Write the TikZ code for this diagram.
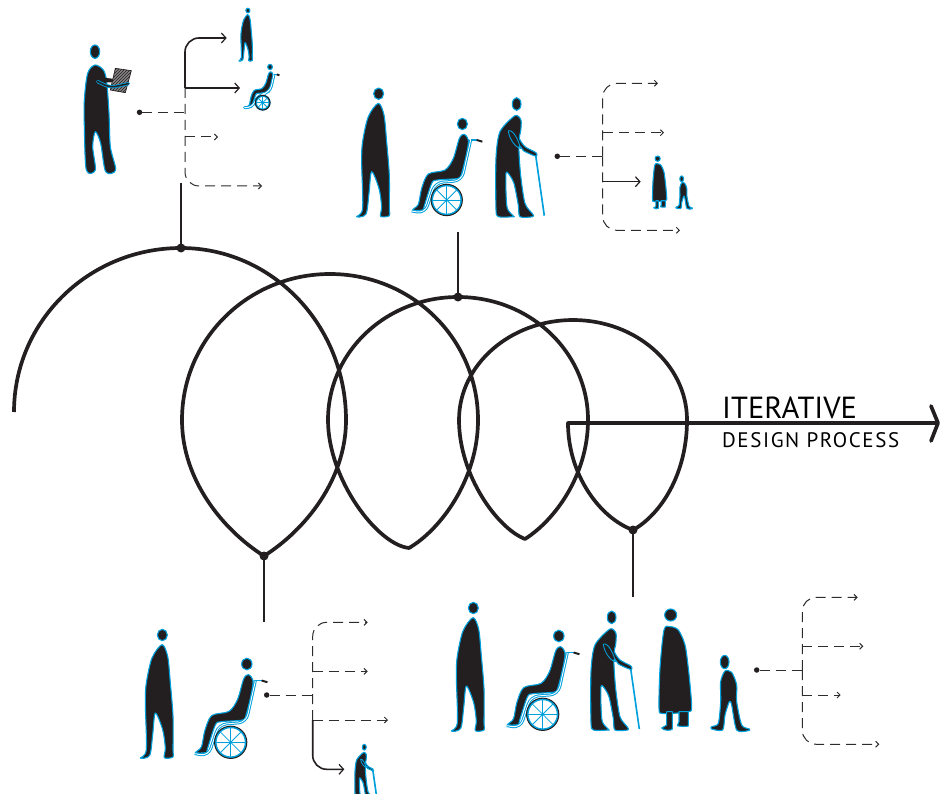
\documentclass[tikz,border=0pt]{standalone}
\usepackage{fontspec}
\setmainfont{PT Sans}
\newfontfamily\spaced[LetterSpace=7.5]{PT Sans}
\usetikzlibrary{arrows.meta,patterns}
\definecolor{ink}{HTML}{231F20}
\definecolor{figblue}{HTML}{00A0DC}
\definecolor{branchgray}{HTML}{2E2C2D}
\def\figlw{1pt}
\tikzset{
  figlw/.code={\def\figlw{#1}\tikzset{line width=#1}},
  every pic/.style={figlw=1.1pt},
  figure/.style={fill=ink,draw=figblue,line join=round},
  dot/.style={circle,fill=ink,inner sep=0pt,minimum size=#1},
  stem/.style={ink,line width=1.7pt},
  maincurve/.style={ink,line width=3.7pt,line join=round},
  dashbranch/.style={branchgray,line width=1pt,dash pattern=on 10pt off 6pt,rounded corners=14pt,-{Straight Barb[length=3pt,width=6pt]}},
  solidbranch/.style={ink,line width=1.6pt,rounded corners=14pt,-{Straight Barb[length=4.5pt,width=10pt,line width=1.2pt]}},
  standing/.pic={
    \fill[figure] (16,-369) ellipse (15 and 17);
    \fill[figure] plot[smooth cycle,tension=.5] coordinates {(15,-340)(32,-305)(40,-225)(48,-125)(48,-25)(48,-3)(22,-1)(25,-30)(17,-85)(-5,-135)(-13,-70)(-22,-8)(-50,0)(-32,-25)(-35,-165)(-32,-225)(-15,-300)};
  },
  wheelchair/.pic={
    \fill[figure] plot[smooth cycle,tension=.5] coordinates {(52,-197)(65,-180)(60,-140)(45,-80)(35,-65)(-28,-60)(-45,-50)(-68,20)(-72,30)(-102,30)(-85,13)(-75,-35)(-55,-78)(-5,-90)(20,-125)(38,-185)};
    \fill[figure] (47,-228) ellipse (15 and 17);
    \draw[figblue,line width=2.6*\figlw,rounded corners=8,line join=round] (72,-180)--(45,-58)--(-35,-52)--(-65,40)--(-105,33);
    \draw[white,line width=.8*\figlw,rounded corners=8,line join=round] (72,-180)--(45,-58)--(-35,-52)--(-65,40)--(-105,33);
    \draw[figblue,line width=1.8*\figlw] (72,-180)--(90,-180);
    \draw[ink,line width=1.8*\figlw] (90,-180)--(107,-175);
    \foreach \a in {0,45,...,315}{\draw[figblue,line width=.7*\figlw] (0,0)--(\a:45);}
    \draw[figblue,line width=1.8*\figlw] (0,0) circle (44);
    \draw[ink,line width=.9*\figlw] (0,0) circle (47);
  },
  caneperson/.pic={
    \draw[figblue,line width=1.5*\figlw] (67,-185)--(93,-3);
    \fill[figure] (10,-338) ellipse (13 and 19);
    \fill[figure] plot[smooth cycle,tension=.45] coordinates {(5,-303)(23,-290)(22,-255)(18,-235)(35,-210)(68,-192)(70,-182)(60,-184)(32,-197)(17,-210)(22,-125)(35,-40)(58,-8)(58,0)(20,0)(15,-35)(2,-100)(-15,-130)(-22,-130)(-22,-75)(-18,-25)(0,-2)(0,0)(-45,0)(-52,-25)(-52,-175)(-40,-255)};
    \draw[figblue,line width=.8*\figlw] (-15,-258) .. controls (-12,-230) and (10,-205) .. (22,-205) .. controls (15,-230) and (0,-262) .. (-15,-258);
  },
  cloakperson/.pic={
    \fill[figure] (-13,-345) circle (18);
    \fill[figure] plot[smooth cycle,tension=.5] coordinates {(-15,-310)(10,-300)(30,-255)(40,-185)(47,-115)(50,-65)(42,-55)(-5,-50)(-40,-50)(-48,-65)(-45,-185)(-33,-300)};
    \fill[figure] (-25,-55)--(-8,-55)--(-8,-3) .. controls (-10,2) and (-35,3) .. (-40,-6) -- (-25,-15)--cycle;
    \fill[figure] (12,-55)--(40,-55)--(40,-12) .. controls (35,-10) and (15,-10) .. (7,-13) -- (12,-25)--cycle;
  },
  child/.pic={
    \fill[figure] (-16,-204) ellipse (13 and 20);
    \fill[figure] plot[smooth cycle,tension=.45] coordinates {(-15,-177)(5,-173)(20,-135)(20,-85)(35,-15)(58,-3)(55,2)(20,0)(5,-75)(-2,-85)(-15,-45)(-22,0)(-55,-3)(-55,-10)(-35,-20)(-28,-85)(-28,-145)};
  },
  reader/.pic={
    \fill[figure] (0,-40) ellipse (14 and 20);
    \fill[figure] plot[smooth cycle,tension=.5] coordinates {(0,0)(25,15)(35,50)(42,145)(46,245)(62,315)(32,320)(17,235)(1,200)(-7,245)(1,315)(-26,315)(-32,185)(-32,105)(-22,25)};
    \fill[ink] (26,38)--(60,42)--(58,52)--(32,52)--cycle;
    \filldraw[fill=white,draw=ink,line width=.6*\figlw] (61,10)--(109,17)--(91,83)--(46,75)--cycle;
    \fill[pattern=north east lines,pattern color=ink] (61,10)--(109,17)--(91,83)--(46,75)--cycle;
    \fill[ink,opacity=.55] (61,10)--(109,17)--(91,83)--(46,75)--cycle;
    \draw[figblue,line width=3*\figlw,line cap=round,line join=round,rounded corners=6] (8,50)--(46,68)--(100,56);
    \draw[ink,line width=1.4*\figlw,line cap=round,line join=round,rounded corners=6] (8,50)--(46,68)--(100,56);
  }
}
\begin{document}
\begin{tikzpicture}[x=1pt,y=-1pt]
\useasboundingbox (0,0) rectangle (944,794);
% spiral
\coordinate (startc) at (14,412);
\coordinate (cusp1) at (264,556);
\coordinate (cusp3) at (633,530);
\coordinate (arrowend) at (938,423);
\coordinate (topc1) at (181,248);
\coordinate (topc2) at (458,297);
\draw[maincurve] (startc) .. controls (14,321) and (89,248) .. (topc1)
  .. controls (272,248) and (346,325) .. (346,420)
  .. controls (346,480) and (305,530) .. (cusp1)
  .. controls (223,530) and (182,480) .. (182,420)
  .. controls (182,339) and (248,274) .. (330,274)
  .. controls (412,274) and (478,339) .. (478,420)
  .. controls (478,480) and (440,530) .. (409,548)
  .. controls (378,545) and (328,480) .. (328,420)
  .. controls (328,352) and (386,297) .. (topc2)
  .. controls (530,297) and (588,352) .. (588,420)
  .. controls (588,475) and (555,520) .. (525,539)
  .. controls (497,528) and (459,475) .. (459,420)
  .. controls (459,365) and (510,320) .. (573,320)
  .. controls (636,320) and (687,365) .. (687,420)
  .. controls (687,475) and (660,515) .. (cusp3)
  .. controls (600,518) and (568,475) .. (568,423)
  -- (arrowend);
\coordinate (tipa) at (931,406);
\coordinate (tipb) at (931,441);
\draw[maincurve,line cap=round] (tipa) -- (arrowend) -- (tipb);
\node[anchor=base west,inner sep=0pt,font=\fontsize{30.5}{31}\selectfont] (t1) at (722,418) {ITERATIVE};
\node[anchor=base west,inner sep=0pt,font=\fontsize{21}{21}\spaced] (t2) at (722,447.5) {DESIGN PROCESS};
% stems
\foreach \n/\x/\y in {na/181/248,nb/264/556,nc/458/297,nd/633/530}{\node[dot=9pt] (\n) at (\x,\y) {};}
\coordinate (sa) at (181,183);\coordinate (sb) at (264,622);\coordinate (sc) at (458,232);\coordinate (sd) at (633,597);
\draw[stem] (sa)--(na.center);\draw[stem] (sb)--(nb.center);\draw[stem] (sc)--(nc.center);\draw[stem] (sd)--(nd.center);
% tree A
\node[dot=5.5pt] (da) at (139.5,112.3) {};
\coordinate (ta) at (185,112.3);\coordinate (ta1) at (185,88);\coordinate (ea1) at (226.7,38);\coordinate (ea2) at (240,88);
\coordinate (ta3) at (185,137);\coordinate (ea3) at (218,137);\coordinate (ea4) at (262,186);
\draw[dashbranch,-] (da)--(ta);
\draw[solidbranch] (ta1)|-(ea1);
\draw[solidbranch] (ta1)--(ea2);
\draw[dashbranch] (ta3)--(ea3);
\draw[dashbranch] (ta1)|-(ea4);
% tree B
\node[dot=5.5pt] (db) at (557.3,156.3) {};
\coordinate (tb) at (602.7,156.3);\coordinate (tb2) at (602.7,132.7);\coordinate (tb3) at (602.7,181.7);
\coordinate (eb1) at (658,83.3);\coordinate (eb2) at (664,132.7);\coordinate (eb3) at (640.7,181.7);\coordinate (eb4) at (680,230.3);
\draw[dashbranch,-] (db)--(tb);
\draw[dashbranch] (tb)|-(eb1);
\draw[dashbranch] (tb2)--(eb2);
\draw[solidbranch] (tb3)--(eb3);
\draw[dashbranch] (tb)|-(eb4);
% tree C
\node[dot=5.5pt] (dc) at (266.7,695) {};
\coordinate (tc) at (312.7,695);\coordinate (tc2) at (312.7,671.3);\coordinate (tc3) at (312.7,720);
\coordinate (ec1) at (367.7,622.3);\coordinate (ec2) at (367.7,671.3);\coordinate (ec3) at (388,720);\coordinate (ec4) at (344.3,769.3);
\draw[dashbranch,-] (dc)--(tc);
\draw[dashbranch] (tc3)|-(ec1);
\draw[dashbranch] (tc2)--(ec2);
\draw[dashbranch] (tc3)--(ec3);
\draw[solidbranch] (tc3)|-(ec4);
% tree D
\node[dot=5.5pt] (dd) at (756.7,670) {};
\coordinate (td) at (802.3,670);\coordinate (td2) at (802.3,646.3);\coordinate (td3) at (802.3,695);
\coordinate (ed1) at (857.7,597.3);\coordinate (ed2) at (863.3,646.3);\coordinate (ed3) at (840.7,695);\coordinate (ed4) at (879.3,744.3);
\draw[dashbranch,-] (dd)--(td);
\draw[dashbranch] (td)|-(ed1);
\draw[dashbranch] (td2)--(ed2);
\draw[dashbranch] (td3)--(ed3);
\draw[dashbranch] (td)|-(ed4);
% figures
\pic (r1) [scale=1/3] at (95,65) {reader};
\pic (s1) [scale=.41/3,figlw=.6pt] at (245.7,61) {standing};
\pic (w1) [scale=.47/3,figlw=.7pt] at (262.7,102.7) {wheelchair};
\pic (s2) [scale=1/3] at (373.3,216.7) {standing};
\pic (w2) [scale=1/3] at (446.7,200) {wheelchair};
\pic (k2) [scale=1/3] at (513.3,216.7) {caneperson};
\pic (o2) [scale=.435/3,figlw=.5pt] at (659.5,208.7) {cloakperson};
\pic (h2) [scale=.436/3,figlw=.5pt] at (684,208.5) {child};
\pic (s3) [scale=1/3] at (157,758) {standing};
\pic (w3) [scale=1.03/3] at (230.7,742.3) {wheelchair};
\pic (k3) [scale=.45/3,figlw=.5pt] at (362.8,797.9) {caneperson};
\pic (s4) [scale=1/3] at (468,731) {standing};
\pic (w4) [scale=1.03/3] at (542.7,714.3) {wheelchair};
\pic (k4) [scale=1/3] at (608.3,730) {caneperson};
\pic (o4) [scale=1/3] at (675,730) {cloakperson};
\pic (h4) [scale=1/3] at (730,730) {child};
\end{tikzpicture}
\end{document}
